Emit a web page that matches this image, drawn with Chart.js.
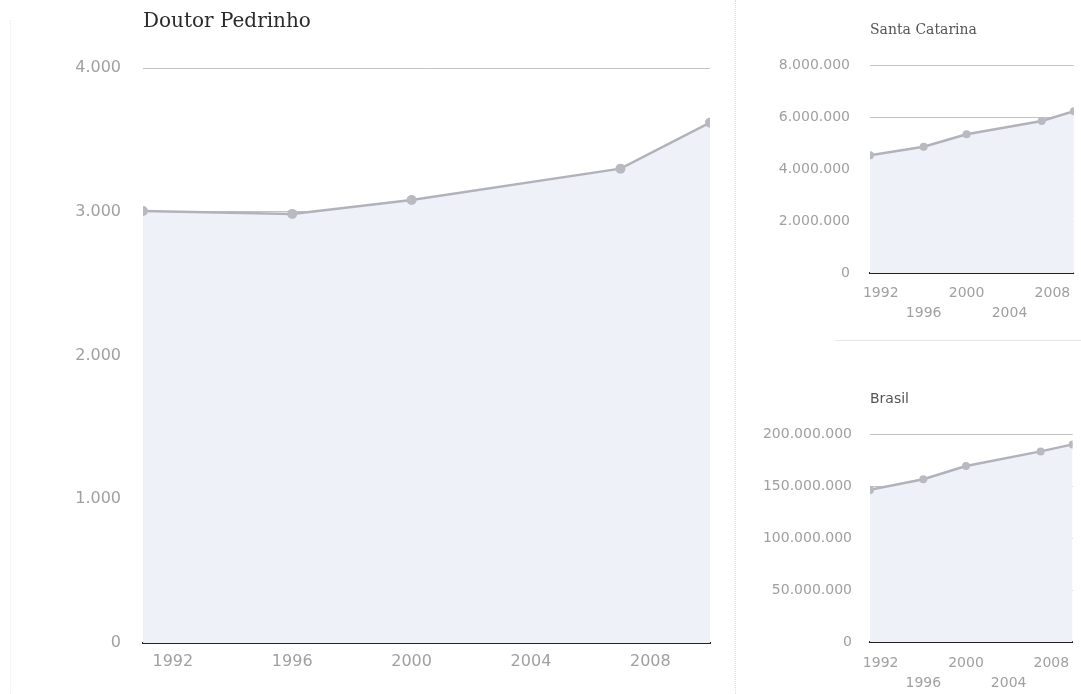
<!DOCTYPE html>
<html>
<head>
<meta charset="utf-8">
<script src="https://cdn.jsdelivr.net/npm/chart.js@4"></script>
<style>
  body { margin: 0; background: #fff; width: 1081px; height: 694px; overflow: hidden; position: relative; }
  canvas { position: absolute; }
  .sep { position: absolute; }
</style>
</head>
<body>
<div class="sep" style="left:10px;top:20px;width:0;height:674px;border-left:1px dotted #eee;"></div>
<div class="sep" style="left:735px;top:0;width:0;height:694px;border-left:1px dotted #ddd;"></div>
<div class="sep" style="left:835px;top:340px;width:246px;height:0;border-top:1px solid #e6e6e6;"></div>

<canvas id="main" width="730" height="694" style="left:0;top:0;"></canvas>
<canvas id="sc" width="341" height="340" style="left:740px;top:0;"></canvas>
<canvas id="br" width="341" height="349" style="left:740px;top:345px;"></canvas>

<script>
// census / count years (IBGE)
let years = [1991, 1996, 2000, 2007, 2010];

// population
let pedrinho      = [3005, 2985, 3082, 3300, 3620];
let santaCatarina = [4542000, 4875000, 5356000, 5867000, 6248000];
let brasil        = [146825000, 157070000, 169799000, 183987000, 190756000];

let yearTicks     = [1992, 1996, 2000, 2004, 2008];
let pedrinhoTicks = [0, 1000, 2000, 3000, 4000];
let scTicks       = [0, 2000000, 4000000, 6000000, 8000000];
let brTicks       = [0, 50000000, 100000000, 150000000, 200000000];

// thousands with dots, pt-BR style
function fmt(v) {
  return String(Math.round(v)).replace(/\B(?=(\d{3})+(?!\d))/g, '.');
}

function makeChart(id, title, values, yTicks, s) {
  let points = years.map((y, i) => ({ x: y, y: values[i] }));

  return new Chart(document.getElementById(id), {
    type: 'line',
    data: {
      datasets: [{
        data: points,
        borderColor: '#b2b2ba',
        borderWidth: 2.5,
        backgroundColor: '#eff1f9',
        fill: 'origin',
        tension: 0,
        pointRadius: s.pointRadius,
        pointBackgroundColor: '#b9b9c1',
        pointBorderWidth: 0
      }]
    },
    options: {
      responsive: false,
      animation: false,
      events: [],
      layout: { padding: { left: 0, right: s.padRight, top: 0, bottom: 0 } },
      plugins: {
        legend: { display: false },
        tooltip: { enabled: false },
        title: {
          display: true,
          text: title,
          align: 'start',
          fullSize: false,
          color: s.titleColor,
          font: { family: s.titleFont, size: s.titleSize, weight: 'normal', lineHeight: 1.2 },
          padding: { top: s.titleTop, bottom: s.titleBottom }
        }
      },
      scales: {
        x: {
          type: 'linear',
          min: 1991,
          max: 2010,
          afterBuildTicks: scale => { scale.ticks = yearTicks.map(v => ({ value: v })); },
          afterFit: scale => { scale.height = s.xHeight; },
          grid: { display: false, drawTicks: false },
          border: { display: true, color: '#222', width: 2 },
          ticks: {
            autoSkip: false,
            maxRotation: 0,
            padding: s.xPad,
            color: '#a0a0a0',
            font: { family: 'DejaVu Sans', size: s.tickSize, lineHeight: s.tickLine },
            // small charts stagger labels on two rows
            callback: (v, i) => (s.stagger && i % 2 === 1) ? ['', String(v)] : String(v)
          }
        },
        y: {
          min: 0,
          max: yTicks[yTicks.length - 1],
          afterBuildTicks: scale => { scale.ticks = yTicks.map(v => ({ value: v })); },
          afterFit: scale => { scale.width = s.yWidth; },
          grid: {
            drawTicks: false,
            color: ctx => ctx.index === 0 ? 'rgba(0,0,0,0)' : '#c2c2c2',
            lineWidth: 1
          },
          border: { display: false },
          ticks: {
            padding: s.yPad,
            color: '#a0a0a0',
            font: { family: 'DejaVu Sans', size: s.tickSize },
            callback: v => fmt(v)
          }
        }
      }
    }
  });
}

makeChart('main', 'Doutor Pedrinho', pedrinho, pedrinhoTicks, {
  padRight: 20, yWidth: 143, xHeight: 51, yPad: 22, xPad: 9,
  tickSize: 16, tickLine: 1.2, stagger: false, pointRadius: 5,
  titleFont: 'DejaVu Serif', titleSize: 20, titleColor: '#2a2a2a', titleTop: 10, titleBottom: 34
});

makeChart('sc', 'Santa Catarina', santaCatarina, scTicks, {
  padRight: 3, yWidth: 130, xHeight: 67, yPad: 20, xPad: 10,
  tickSize: 14, tickLine: 1.45, stagger: true, pointRadius: 4,
  titleFont: 'DejaVu Serif', titleSize: 14, titleColor: '#555', titleTop: 22, titleBottom: 27
});

makeChart('br', 'Brasil', brasil, brTicks, {
  padRight: 3, yWidth: 130, xHeight: 52, yPad: 18, xPad: 11,
  tickSize: 14, tickLine: 1.45, stagger: true, pointRadius: 4,
  titleFont: 'DejaVu Sans', titleSize: 14, titleColor: '#555', titleTop: 46, titleBottom: 27
});
</script>
</body>
</html>
